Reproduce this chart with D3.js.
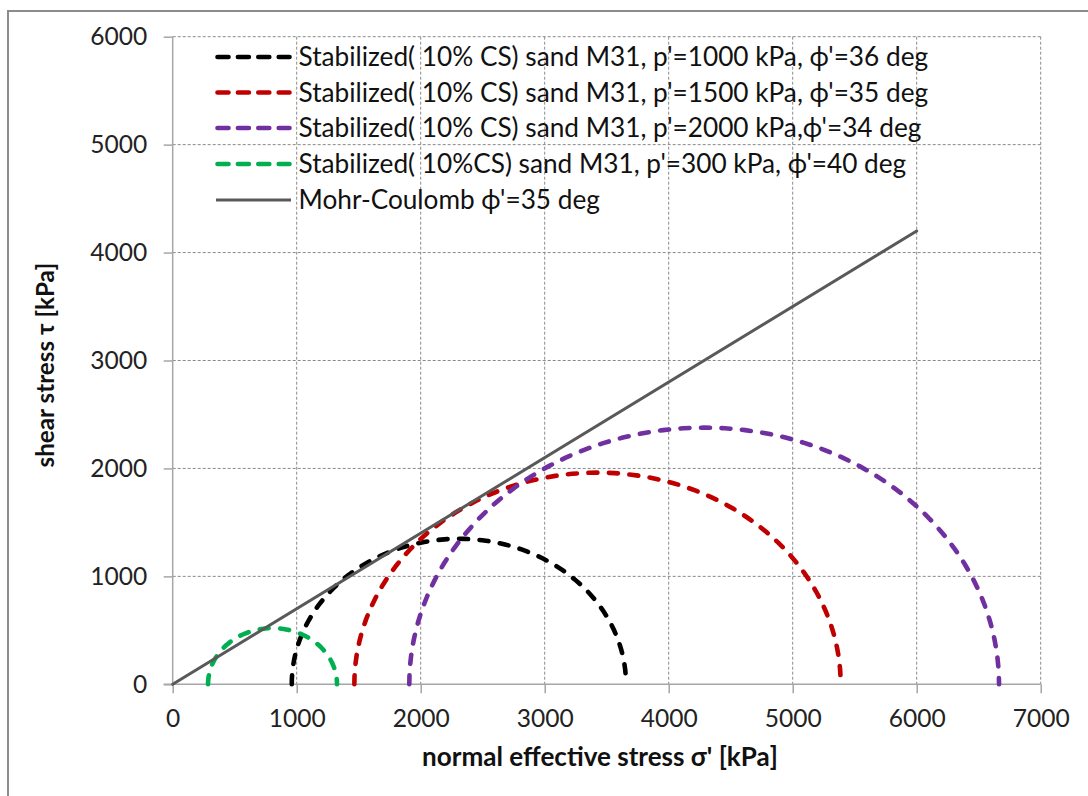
<!DOCTYPE html>
<html><head><meta charset="utf-8">
<script src="https://cdn.jsdelivr.net/npm/d3@7"></script>
<style>html,body{margin:0;padding:0;background:#fff;overflow:hidden}</style>
</head><body>
<svg id="c" width="1088" height="796"></svg>
<script>
// ---- data ----
const seriesNames = [
  "Stabilized( 10% CS) sand M31, p'=1000 kPa, \u03D5'=36 deg",
  "Stabilized( 10% CS) sand M31, p'=1500 kPa, \u03D5'=35 deg",
  "Stabilized( 10% CS) sand M31, p'=2000 kPa,\u03D5'=34 deg",
  "Stabilized( 10%CS) sand M31, p'=300 kPa, \u03D5'=40 deg"
];
const sigma3 = [960, 1465, 1908, 285];     // minor principal stress (left end of circle)
const sigma1 = [3656, 5387, 6664, 1325];   // major principal stress (right end of circle)
const seriesColors = ["#000000", "#C00000", "#7030A0", "#00B050"];
const mcName = "Mohr-Coulomb \u03D5'=35 deg";
const mcSigma = [0, 6000];
const mcTau = [0, 4200];
const xTicks = [0,1000,2000,3000,4000,5000,6000,7000];
const yTicks = [0,1000,2000,3000,4000,5000,6000];

// ---- layout ----
const svg = d3.select("#c");
const FONT = "Lato, 'Open Sans', sans-serif";
const x = d3.scaleLinear().domain([0,7000]).range([172.7,1040.7]);
const y = d3.scaleLinear().domain([0,6000]).range([684.3,36.7]);

function fit(sel, target){
  sel.attr("font-size", 20);
  const w = sel.node().getComputedTextLength();
  const fs = 20*target/w;
  sel.attr("font-size", fs);
  return fs;
}

// outer border
svg.append("rect").attr("x",8).attr("y",11).attr("width",1200).attr("height",900)
  .attr("fill","none").attr("stroke","#8c8c8c").attr("stroke-width",2);

// gridlines
const grid = svg.append("g");
grid.selectAll("line.v").data(xTicks.filter(d=>d>0)).join("line")
  .attr("x1",d=>x(d)).attr("x2",d=>x(d)).attr("y1",y(6000)).attr("y2",y(0))
  .attr("stroke","#8a8a8a").attr("stroke-width",1).attr("stroke-dasharray","3,2");
grid.selectAll("line.h").data(yTicks.filter(d=>d>0)).join("line")
  .attr("x1",x(0)).attr("x2",x(7000)).attr("y1",d=>y(d)).attr("y2",d=>y(d))
  .attr("stroke","#8a8a8a").attr("stroke-width",1).attr("stroke-dasharray","3,2");

// axes
const xAxis = d3.axisBottom(x).tickValues(xTicks).tickSize(9).tickPadding(16).tickFormat(d3.format("d"));
const yAxis = d3.axisLeft(y).tickValues(yTicks).tickSize(9).tickPadding(16).tickFormat(d3.format("d"));
const gx = svg.append("g").attr("transform",`translate(0,${y(0)})`).call(xAxis);
const gy = svg.append("g").attr("transform",`translate(${x(0)},0)`).call(yAxis);
[gx,gy].forEach(g=>{
  g.select(".domain").attr("stroke","#a6a6a6").attr("stroke-width",1.5);
  g.selectAll(".tick line").attr("stroke","#a6a6a6").attr("stroke-width",1.5);
  g.selectAll(".tick text").attr("fill","#222").attr("font-family",FONT);
});
gy.select(".domain").attr("d",`M0,${y(0)}V${y(6000)}`);
gx.select(".domain").attr("d",`M${x(0)-9},0H${x(7000)}`);
const tfs = fit(gx.selectAll(".tick text").filter(d=>d===7000), 57);
gx.selectAll(".tick text").attr("font-size",tfs).attr("dy","0.71em");
gy.selectAll(".tick text").attr("font-size",tfs).attr("x",-25.5);

// Mohr circles
const angles = d3.range(0, 181, 2);
const line = d3.line().x(d=>x(d[0])).y(d=>y(d[1]));
const plot = svg.append("g");
sigma3.forEach((s3,i)=>{
  const c = (s3+sigma1[i])/2, r = (sigma1[i]-s3)/2;
  const pts = angles.map(a=>[c - r*Math.cos(a*Math.PI/180), r*Math.sin(a*Math.PI/180)]);
  plot.append("path").datum(pts).attr("d",line).attr("fill","none")
    .attr("stroke",seriesColors[i]).attr("stroke-width",4.6)
    .attr("stroke-dasharray","9,11.5").attr("stroke-linecap","round");
});
// Mohr-Coulomb line
plot.append("path").datum(mcSigma.map((s,i)=>[s,mcTau[i]])).attr("d",line)
  .attr("fill","none").attr("stroke","#595959").attr("stroke-width",3).attr("stroke-linecap","round");

// legend
const lg = svg.append("g");
const rows = [57, 92.5, 128, 164, 200];
const legendItems = seriesNames.map((n,i)=>({name:n,color:seriesColors[i],dash:true}))
  .concat([{name:mcName,color:"#595959",dash:false}]);
legendItems.forEach((it,i)=>{
  lg.append("line").attr("x1",it.dash?217.5:216).attr("x2",it.dash?289.5:291).attr("y1",rows[i]).attr("y2",rows[i])
    .attr("stroke",it.color).attr("stroke-width",it.dash?4.6:3)
    .attr("stroke-dasharray",it.dash?"11,9.4":null).attr("stroke-linecap",it.dash?"round":"butt");
});
const ltexts = lg.selectAll("text.l").data(legendItems).join("text").attr("class","l")
  .attr("x",298.5).attr("y",(d,i)=>rows[i]).attr("dy","0.35em")
  .attr("font-family",FONT).attr("fill","#111").text(d=>d.name);
const lfs = fit(ltexts.filter((d,i)=>i===0), 630);
ltexts.attr("font-size",lfs);

// axis titles
const xt = svg.append("text").attr("x",600).attr("y",766).attr("text-anchor","middle")
  .attr("font-family",FONT).attr("font-weight","bold").attr("fill","#111")
  .text("normal  effective stress \u03C3' [kPa]");
fit(xt, 356);
const yt = svg.append("text").attr("transform","translate(54,365) rotate(-90)").attr("text-anchor","middle")
  .attr("font-family",FONT).attr("font-weight","bold").attr("fill","#111")
  .text("shear stress \u03C4 [kPa]");
fit(yt, 205);
</script>
</body></html>
